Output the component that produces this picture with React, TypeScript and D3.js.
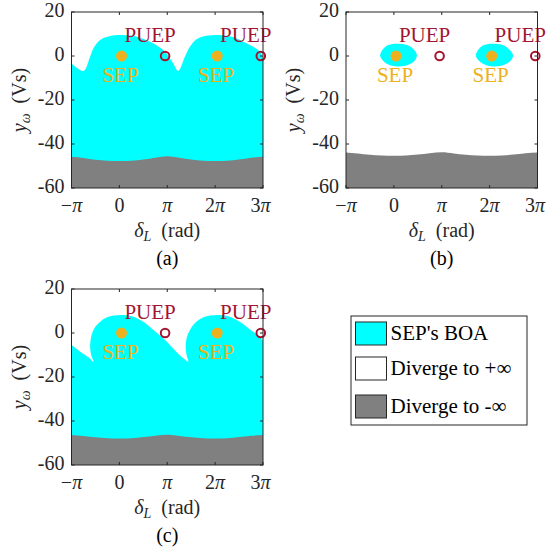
import React from 'react';
import * as d3 from 'd3';

const PI = Math.PI;

// Axis ticks
const xTicks = [-PI, 0, PI, 2 * PI, 3 * PI];
const xTickPrefix = ['−', '0', '', '2', '3'];
const xTickHasPi = [true, false, true, true, true];
const yTicks = [20, 0, -20, -40, -60];

// Equilibrium points (delta_L in rad, y_omega in Vs)
const sepDelta = [0.14, 6.42];
const puepDelta = [3.0, 9.28];

// (a) upper edge of the SEP basin
const boaTopA: [number, number][] = [
  [-PI, -3.3], [-2.36, -6.8], [-1.92, -0.3], [-1.7, 3.5], [-1.26, 7.3], [-0.61, 9.1],
  [0.26, 9.5], [1.14, 8.8], [2.01, 6.5], [2.88, 2.7], [3.53, -3.3], [3.86, -6.8],
  [4.3, -0.3], [4.63, 4.2], [5.07, 7.6], [5.72, 9.2], [6.6, 9.5], [7.46, 8.5],
  [8.34, 5.8], [9.21, 2.0], [3 * PI, -1.5],
];
// (a) top of the region diverging to -inf
const lowTopA: [number, number][] = [
  [-PI, -45.8], [-2.36, -46.4], [-1.57, -47.2], [-0.79, -47.6], [0, -47.7], [0.79, -47.6],
  [1.57, -47.0], [2.36, -46.2], [PI, -45.6], [3.93, -46.3], [4.71, -47.1], [5.5, -47.6],
  [6.28, -47.7], [7.07, -47.6], [7.85, -47.1], [8.64, -46.3], [3 * PI, -45.8],
];

// (b) closed basins around each SEP
const boaBlobB1: [number, number][] = [
  [-0.9, 0], [-0.72, 3.05], [-0.36, 5.0], [0.2, 5.6], [0.86, 5.0], [1.29, 3.05],
  [1.51, 0.45], [1.4, -1.8], [1.07, -3.6], [0.53, -4.7], [-0.13, -4.4], [-0.57, -3.05],
];
const boaBlobB2: [number, number][] = [
  [5.38, 0], [5.56, 3.1], [5.92, 5.0], [6.48, 5.6], [7.14, 5.0], [7.57, 3.0],
  [7.82, 0.4], [7.7, -1.8], [7.36, -3.6], [6.82, -4.7], [6.16, -4.4], [5.72, -3.0],
];
const lowTopB: [number, number][] = [
  [-PI, -43.9], [-2.36, -44.3], [-1.57, -44.9], [-0.79, -45.2], [0, -45.3], [0.79, -45.2],
  [1.57, -44.8], [2.36, -44.2], [PI, -43.8], [3.93, -44.3], [4.71, -44.9], [5.5, -45.2],
  [6.28, -45.3], [7.07, -45.2], [7.85, -44.8], [8.64, -44.2], [3 * PI, -43.9],
];

// (c) upper edge of the SEP basin (folds back on itself)
const boaTopC: [number, number][] = [
  [-PI, -5.5], [-2.57, -8.5], [-2.03, -11], [-1.7, -13], [-1.85, -10], [-1.92, -6.2],
  [-1.87, -2.4], [-1.7, 1.4], [-1.37, 4.4], [-0.94, 6.7], [-0.39, 7.9], [0.26, 8.2],
  [0.92, 7.4], [1.57, 5.1], [2.23, 1.4], [2.88, -2.4], [3.53, -7.0], [4.08, -10.8],
  [4.52, -13], [4.41, -10], [4.35, -6.2], [4.41, -2.4], [4.63, 1.4], [4.95, 4.4],
  [5.39, 6.7], [5.94, 7.9], [6.59, 8.2], [7.24, 7.4], [7.9, 5.1], [8.55, 1.7],
  [9.21, -1.7], [3 * PI, -3.5],
];
const lowTopC: [number, number][] = [
  [-PI, -46.4], [-2.36, -46.8], [-1.57, -47.4], [-0.79, -47.8], [0, -47.9], [0.79, -47.8],
  [1.57, -47.3], [2.36, -46.7], [PI, -46.3], [3.93, -46.8], [4.71, -47.4], [5.5, -47.8],
  [6.28, -47.9], [7.07, -47.8], [7.85, -47.3], [8.64, -46.7], [3 * PI, -46.4],
];

// Legend entries
const legendLabels = ["SEP's BOA", 'Diverge to +∞', 'Diverge to -∞'];

const CYAN = '#00FFFF';
const GRAY = '#808080';
const SEP_C = '#EDB120';
const PUEP_C = '#A2142F';
const AX = '#262626';
const FONT = "'Liberation Serif', 'Times New Roman', serif";

const W = 191.5;
const H = 176;

type Scales = { xs: d3.ScaleLinear<number, number>; ys: d3.ScaleLinear<number, number> };

function upperWhitePath({ xs, ys }: Scales, pts: [number, number][]) {
  const line = d3
    .line<[number, number]>()
    .x((d) => xs(d[0]))
    .y((d) => ys(d[1]))
    .curve(d3.curveCatmullRom.alpha(0.5));
  const body = line(pts) || '';
  return `M${xs(-PI)},${ys(20)}L${body.slice(1)}L${xs(3 * PI)},${ys(20)}Z`;
}

function lowerArea({ xs, ys }: Scales, pts: [number, number][]) {
  return (
    d3
      .area<[number, number]>()
      .x((d) => xs(d[0]))
      .y0(ys(-60))
      .y1((d) => ys(d[1]))
      .curve(d3.curveMonotoneX)(pts) || ''
  );
}

function blobPath({ xs, ys }: Scales, pts: [number, number][]) {
  return (
    d3
      .line<[number, number]>()
      .x((d) => xs(d[0]))
      .y((d) => ys(d[1]))
      .curve(d3.curveCatmullRomClosed.alpha(0.5))(pts) || ''
  );
}

function Markers({ xs, ys }: Scales) {
  return (
    <g fontFamily={FONT} fontSize={21}>
      {sepDelta.map((d, i) => (
        <g key={'s' + i}>
          <circle cx={xs(d)} cy={ys(0)} r={5.5} fill={SEP_C} />
          <text x={xs(d) - 1} y={ys(0) + 26} textAnchor="middle" fill={SEP_C}>
            SEP
          </text>
        </g>
      ))}
      {puepDelta.map((d, i) => (
        <g key={'p' + i}>
          <circle cx={xs(d)} cy={ys(0)} r={4.3} fill="none" stroke={PUEP_C} strokeWidth={2} />
          <text x={xs(d) - 15} y={ys(0) - 14.5} textAnchor="middle" fill={PUEP_C}>
            PUEP
          </text>
        </g>
      ))}
    </g>
  );
}

function Panel({
  x0,
  y0,
  id,
  tag,
  render,
}: {
  x0: number;
  y0: number;
  id: string;
  tag: string;
  render: (s: Scales) => React.ReactNode;
}) {
  const xs = d3.scaleLinear().domain([-PI, 3 * PI]).range([0, W]);
  const ys = d3.scaleLinear().domain([-60, 20]).range([H, 0]);
  const s = { xs, ys };
  const tl = 3;
  return (
    <g transform={`translate(${x0},${y0})`}>
      <defs>
        <clipPath id={`clip-${id}`}>
          <rect x={0} y={0} width={W} height={H} />
        </clipPath>
      </defs>
      <g clipPath={`url(#clip-${id})`}>{render(s)}</g>
      <Markers {...s} />
      <rect x={0} y={0} width={W} height={H} fill="none" stroke={AX} strokeWidth={1} />
      {xTicks.map((t, i) => (
        <g key={'xt' + i}>
          <line x1={xs(t)} x2={xs(t)} y1={H} y2={H - tl} stroke={AX} />
          <line x1={xs(t)} x2={xs(t)} y1={0} y2={tl} stroke={AX} />
          <text
            x={xs(t) + (i === xTicks.length - 1 ? -2.5 : 0)}
            y={H + 23.5}
            textAnchor="middle"
            fontFamily={FONT}
            fontSize={20}
            fill={AX}
          >
            {xTickPrefix[i]}
            {xTickHasPi[i] ? <tspan fontStyle="italic">π</tspan> : null}
          </text>
        </g>
      ))}
      {yTicks.map((t, i) => (
        <g key={'yt' + i}>
          <line x1={0} x2={tl} y1={ys(t)} y2={ys(t)} stroke={AX} />
          <line x1={W} x2={W - tl} y1={ys(t)} y2={ys(t)} stroke={AX} />
          <text x={-7} y={ys(t) + 4.5} textAnchor="end" fontFamily={FONT} fontSize={20} fill={AX}>
            {String(t)}
          </text>
        </g>
      ))}
      <text x={W / 2} y={H + 49} textAnchor="middle" fontFamily={FONT} fontSize={20} fill={AX}>
        <tspan fontStyle="italic">δ</tspan>
        <tspan fontStyle="italic" fontSize={14} dy={4}>L</tspan>
        <tspan dy={-4}>{'\u2002(rad)'}</tspan>
      </text>
      <text
        transform={`translate(${-46},${H / 2}) rotate(-90)`}
        textAnchor="middle"
        fontFamily={FONT}
        fontSize={20}
        fill={AX}
      >
        <tspan fontStyle="italic">y</tspan>
        <tspan fontStyle="italic" fontSize={14} dy={4}>ω</tspan>
        <tspan dy={-4}>{'\u2002(Vs)'}</tspan>
      </text>
      <text x={W / 2} y={H + 77} textAnchor="middle" fontFamily={FONT} fontSize={20} fill="#000">
        {tag}
      </text>
    </g>
  );
}

function Legend() {
  const x0 = 351;
  const y0 = 316;
  const swatchFill = [CYAN, '#FFFFFF', GRAY];
  const rowTop = [322, 357, 395];
  return (
    <g>
      <rect x={x0} y={y0} width={176} height={109} fill="#fff" stroke={AX} strokeWidth={1} />
      {legendLabels.map((lab, i) => (
        <g key={lab}>
          <rect x={355.5} y={rowTop[i]} width={31} height={23} fill={swatchFill[i]} stroke={AX} strokeWidth={1} />
          <text x={390.5} y={rowTop[i] + 18} fontFamily={FONT} fontSize={21} fill="#000">
            {lab}
          </text>
        </g>
      ))}
    </g>
  );
}

export default function App() {
  return (
    <svg
      width={546}
      height={552}
      viewBox="0 0 546 552"
      style={{ position: 'absolute', left: 0, top: 0, background: '#fff' }}
    >
      <Panel
        x0={71.5}
        y0={12}
        id="a"
        tag="(a)"
        render={(s) => (
          <g>
            <rect x={0} y={0} width={W} height={H} fill={CYAN} />
            <path d={upperWhitePath(s, boaTopA)} fill="#fff" />
            <path d={lowerArea(s, lowTopA)} fill={GRAY} />
          </g>
        )}
      />
      <Panel
        x0={346}
        y0={12}
        id="b"
        tag="(b)"
        render={(s) => (
          <g>
            <rect x={0} y={0} width={W} height={H} fill="#fff" />
            <path d={blobPath(s, boaBlobB1)} fill={CYAN} />
            <path d={blobPath(s, boaBlobB2)} fill={CYAN} />
            <path d={lowerArea(s, lowTopB)} fill={GRAY} />
          </g>
        )}
      />
      <Panel
        x0={71.5}
        y0={289}
        id="c"
        tag="(c)"
        render={(s) => (
          <g>
            <rect x={0} y={0} width={W} height={H} fill={CYAN} />
            <path d={upperWhitePath(s, boaTopC)} fill="#fff" />
            <path d={lowerArea(s, lowTopC)} fill={GRAY} />
          </g>
        )}
      />
      <Legend />
    </svg>
  );
}
